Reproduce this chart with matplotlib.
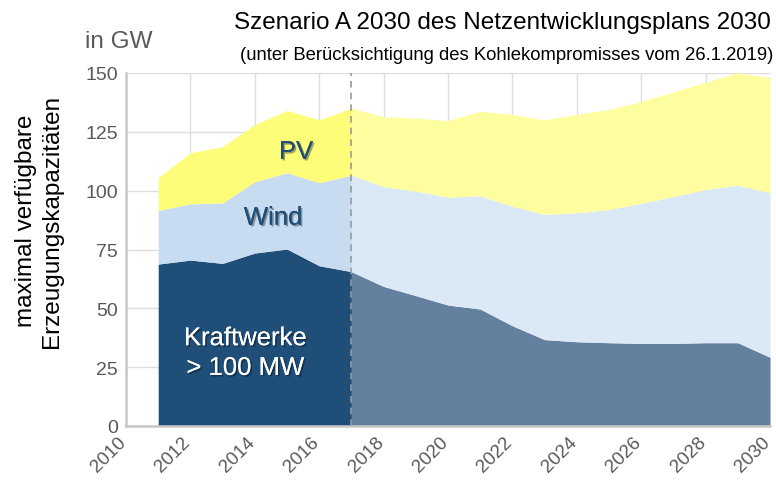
import matplotlib
matplotlib.use("Agg")
import matplotlib.pyplot as plt
import matplotlib.patheffects as pe
from matplotlib import font_manager
from matplotlib.transforms import ScaledTranslation

names = {f.name for f in font_manager.fontManager.ttflist}
FONT = "Liberation Sans Narrow" if "Liberation Sans Narrow" in names else "Liberation Sans"
plt.rcParams['font.family'] = [FONT, 'DejaVu Sans']

years = list(range(2011, 2031))
kraftwerke = [68.8, 70.5, 69.1, 73.5, 75.2, 68.1, 65.6, 59.3, 55.4, 51.4, 49.7, 42.6,
              36.7, 35.8, 35.4, 35.1, 35.1, 35.4, 35.4, 29.2]
wind_top = [91.6, 94.4, 94.8, 103.8, 107.6, 103.4, 106.6, 101.7, 99.8, 97.2, 97.8, 93.4,
            89.9, 90.6, 92.0, 94.6, 97.5, 100.5, 102.3, 99.1]
pv_top = [105.5, 116.1, 118.7, 128.1, 134.1, 130.1, 135.1, 131.4, 130.8, 129.8, 133.7, 132.4,
          130.1, 132.4, 134.5, 137.9, 142.0, 146.1, 150.1, 148.0]
split_year = 2017
xticks = list(range(2010, 2031, 2))
yticks = [0, 25, 50, 75, 100, 125, 150]

fig = plt.figure(figsize=(7.76, 4.81), dpi=100)
ax = fig.add_axes([126/776, 1-427/481, (770-126)/776, (427-74)/481])

i = years.index(split_year)
hist = slice(0, i + 1)
fut = slice(i, None)
yh, yf = years[hist], years[fut]
ax.fill_between(yh, 0, kraftwerke[hist], color="#1f4e79", lw=0, zorder=2)
ax.fill_between(yh, kraftwerke[hist], wind_top[hist], color="#c7dcf0", lw=0, zorder=2)
ax.fill_between(yh, wind_top[hist], pv_top[hist], color="#fdfd7a", lw=0, zorder=2)
ax.fill_between(yf, 0, kraftwerke[fut], color="#63819f", lw=0, zorder=2)
ax.fill_between(yf, kraftwerke[fut], wind_top[fut], color="#dbe8f5", lw=0, zorder=2)
ax.fill_between(yf, wind_top[fut], pv_top[fut], color="#fefda0", lw=0, zorder=2)

ax.axvline(split_year, color="#9a9a9a", lw=1.2, ls=(0, (4, 3)), zorder=3)

ax.set_xlim(2010, 2030)
ax.set_ylim(0, 150)
ax.set_xticks(xticks)
ax.set_yticks(yticks)
ax.grid(True, color="#dedede", lw=1, zorder=0)
ax.set_axisbelow(True)
for s in ["top", "right"]:
    ax.spines[s].set_visible(False)
for s in ["left", "bottom"]:
    ax.spines[s].set_color("#c8c8c8")
    ax.spines[s].set_linewidth(1.8)
ax.tick_params(length=0, colors="#595959", labelsize=14, pad=6)
ax.tick_params(axis="x", labelsize=13.5, pad=9.4)
shift = ScaledTranslation(-2.5/100, 0, fig.dpi_scale_trans)
for lab in ax.get_xticklabels():
    lab.set_rotation(45)
    lab.set_ha("right")
    lab.set_va("center")
    lab.set_rotation_mode("anchor")
    lab.set_transform(lab.get_transform() + shift)

shadow = [pe.withSimplePatchShadow(offset=(1.2, -1.2), shadow_rgbFace="#000000", alpha=0.35), pe.Normal()]
ax.text(2015.28, 116.5, "PV", color="#1f4e79", fontsize=18.5, ha="center", va="center",
        path_effects=shadow, zorder=5)
ax.text(2014.57, 88.5, "Wind", color="#1f4e79", fontsize=18.5, ha="center", va="center",
        path_effects=shadow, zorder=5)
ax.text(2013.71, 31, "Kraftwerke\n> 100 MW", color="white", fontsize=18.5, ha="center", va="center",
        linespacing=1.3, path_effects=shadow, zorder=5)

fig.text(39/776, 1-221/481, "maximal verfügbare\nErzeugungskapazitäten", rotation=90,
         ha="center", va="center", fontsize=17.5, color="black", linespacing=1.2)
fig.text(85/776, 1-42/481, "in GW", color="#595959", fontsize=17.5, ha="left", va="center")
fig.text(771/776, 1-23/481, "Szenario A 2030 des Netzentwicklungsplans 2030", color="black",
         fontsize=17.5, ha="right", va="center")
fig.text(773/776, 1-55/481, "(unter Berücksichtigung des Kohlekompromisses vom 26.1.2019)",
         color="black", fontsize=13.3, ha="right", va="center")

fig.savefig("out.png", dpi=100)
